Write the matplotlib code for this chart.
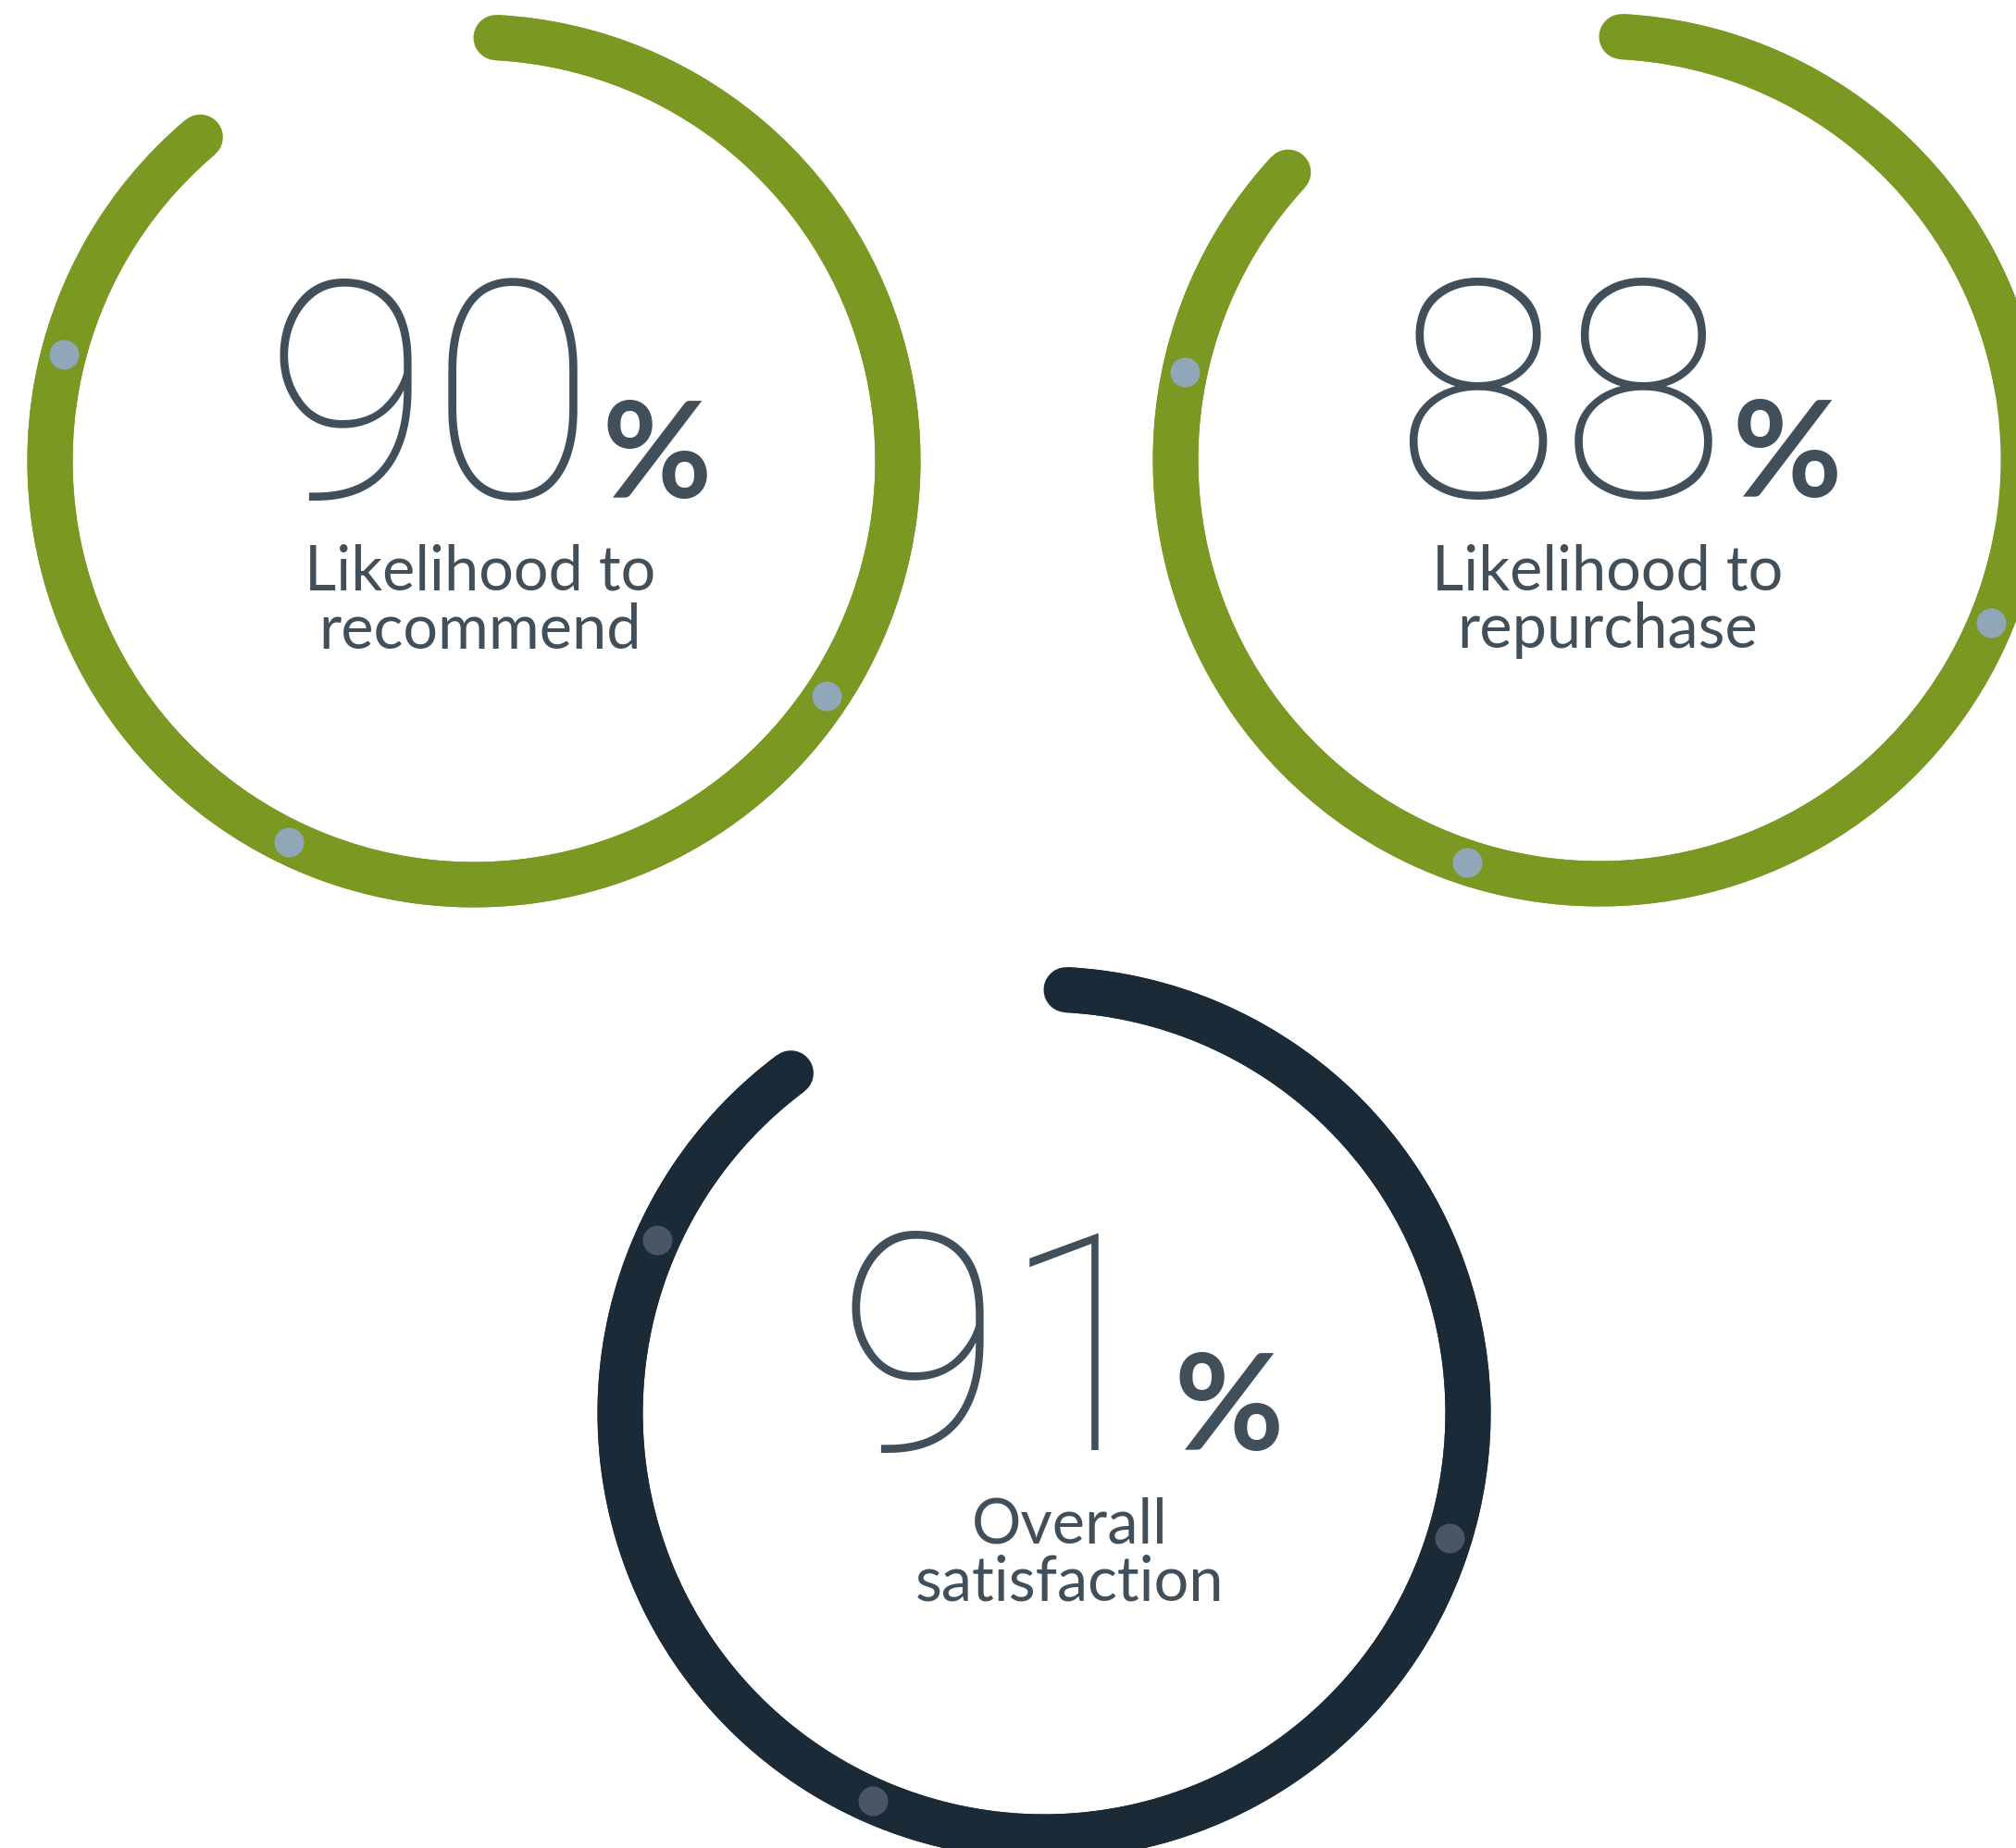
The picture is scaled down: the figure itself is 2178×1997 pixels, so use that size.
import numpy as np
import matplotlib
matplotlib.use('Agg')
import matplotlib.pyplot as plt

W, H = 2178, 1997

# ---- data ----
values = [90, 88, 91]
labels = ['Likelihood to\nrecommend', 'Likelihood to\nrepurchase', 'Overall\nsatisfaction']
ring_colors = ['#7b9922', '#7b9922', '#1b2a37']
dot_colors = ['#8fa7b9', '#8fa7b9', '#4a5566']
dot_deg = [[123.7, 205.9, 284.5],
           [112.6, 198.2, 282.0],
           [107.2, 203.8, 294.1]]

# ---- layout (pixels) ----
centers = [(512, 498), (1728, 497), (1128, 1527)]
num_dx = [15, 20, 17]
lab_dx = [7, 9, 28]
R = 458
stroke = 49
start_deg = 3.0
deg_per_pct = 3.52

txt_color = '#414f5b'

fig = plt.figure(figsize=(W / 100, H / 100), dpi=100)
fig.patch.set_facecolor('white')
renderer = fig.canvas.get_renderer()


def fx(x):
    return x / W


def fy(y):
    return 1 - y / H


for i, v in enumerate(values):
    cx, cy = centers[i]
    ax = fig.add_axes([fx(cx - R), fy(cy + R), 2 * R / W, 2 * R / H], projection='polar')
    ax.set_theta_zero_location('N')
    ax.set_theta_direction(-1)
    ax.set_ylim(0, 1)
    ax.axis('off')

    sw = stroke / R
    t0 = np.radians(start_deg)
    t1 = np.radians(start_deg + v * deg_per_pct)
    # filled band underneath (keeps the ring whole where it runs off the canvas)
    ax.bar((t0 + t1) / 2, sw, width=t1 - t0, bottom=1 - sw / 2,
           color=ring_colors[i], edgecolor='none', clip_on=False, align='center')
    # stroked arc with round caps
    th = np.linspace(t0, t1, 600)
    ax.plot(th, np.ones_like(th), color=ring_colors[i], lw=stroke * 0.72,
            solid_capstyle='round', clip_on=False)
    ax.plot(np.radians(dot_deg[i]), np.ones(len(dot_deg[i])), 'o', ms=23,
            color=dot_colors[i], mec='none', clip_on=False)

    # big number + small bold percent sign
    base = cy + 40
    tn = fig.text(0, fy(base), str(v), fontsize=236, family='Roboto', weight='light',
                  color=txt_color, ha='left', va='baseline')
    tp = fig.text(0, fy(base), '%', fontsize=104, family='Lato', weight='bold',
                  color=txt_color, ha='left', va='baseline')
    w1 = tn.get_window_extent(renderer).width
    w2 = tp.get_window_extent(renderer).width
    gap = 6
    left = cx + num_dx[i] - (w1 + gap + w2) / 2
    tn.set_x(fx(left))
    tp.set_x(fx(left + w1 + gap))

    for k, line in enumerate(labels[i].split('\n')):
        fig.text(fx(cx + lab_dx[i]), fy(cy + 140 + 63 * k), line, fontsize=48,
                 family='Lato', color=txt_color, ha='center', va='baseline')

fig.savefig('out.png', dpi=100, facecolor='white')
